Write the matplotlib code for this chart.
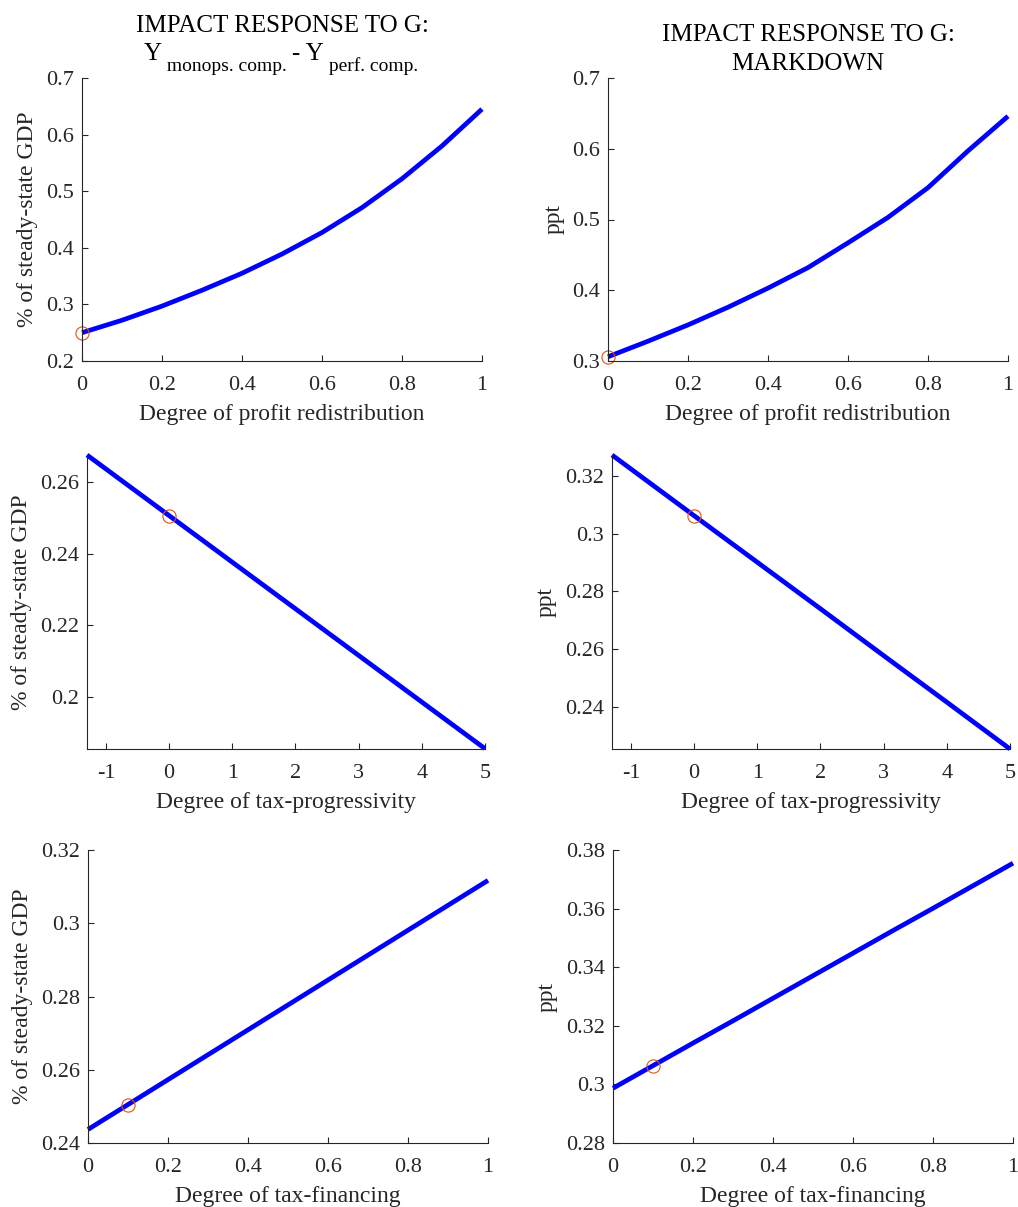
import matplotlib
matplotlib.use("Agg")
import matplotlib.pyplot as plt
import numpy as np

plt.rcParams['font.family'] = ['Liberation Serif', 'DejaVu Serif']
plt.rcParams['axes.unicode_minus'] = False

# data
x_profit = [0, 0.1, 0.2, 0.3, 0.4, 0.5, 0.6, 0.7, 0.8, 0.9, 1.0]
y_profit = [0.250, 0.272, 0.297, 0.325, 0.355, 0.389, 0.427, 0.471, 0.522, 0.580, 0.645]
md_profit = [0.306, 0.328, 0.351, 0.376, 0.403, 0.432, 0.467, 0.503, 0.545, 0.597, 0.646]

x_prog = [-1.3, 0, 1, 2, 3, 4, 5]
y_prog = [0.2675, 0.2506, 0.2376, 0.2246, 0.2116, 0.1986, 0.1856]
md_prog = [0.3272, 0.3062, 0.2901, 0.2740, 0.2578, 0.2417, 0.2255]

x_fin = [0, 0.1, 0.2, 0.3, 0.4, 0.5, 0.6, 0.7, 0.8, 0.9, 1.0]
y_fin = [0.2437, 0.2505, 0.2573, 0.2641, 0.2709, 0.2777, 0.2845, 0.2913, 0.2981, 0.3049, 0.3117]
md_fin = [0.2987, 0.3064, 0.3141, 0.3217, 0.3294, 0.3371, 0.3448, 0.3525, 0.3601, 0.3678, 0.3755]

# baseline calibration markers
base_profit = (0, 0.250, 0.306)
base_prog = (0, 0.2506, 0.3062)
base_fin = (0.1, 0.2505, 0.3064)

title_top = 'IMPACT RESPONSE TO G:'
title_y_parts = [('Y', False), (' monops. comp. ', True), ('- Y', False), (' perf. comp.', True)]
title_md = 'MARKDOWN'
ylab_y = '% of steady-state GDP'
ylab_md = 'ppt'

W, H = 1018, 1207
fig = plt.figure(figsize=(W / 100, H / 100), dpi=100)

def box(l, r, t, b):
    return [l / W, 1 - b / H, (r - l) / W, (b - t) / H]

axc = '#262626'
TICK = 16
LAB = 17
TIT = 18
SUB = 14

def style(ax, xlim, ylim, xticks, yticks, xlabel, ylabel):
    ax.set_xlim(xlim)
    ax.set_ylim(ylim)
    ax.set_xticks(xticks)
    ax.set_yticks(yticks)
    ax.set_xticklabels([('%g' % v) for v in xticks])
    ax.set_yticklabels([('%g' % round(v, 3)) for v in yticks])
    for s in ['top', 'right']:
        ax.spines[s].set_visible(False)
    for s in ['left', 'bottom']:
        ax.spines[s].set_color(axc)
        ax.spines[s].set_linewidth(0.8)
    ax.tick_params(direction='in', length=4, width=0.8, colors=axc,
                   labelsize=TICK)
    ax.tick_params(axis='x', pad=10.5)
    ax.tick_params(axis='y', pad=6)
    ax.set_xlabel(xlabel, fontsize=LAB, color=axc, labelpad=7)
    ax.set_ylabel(ylabel, fontsize=LAB, color=axc, labelpad=5.5)

def draw(ax, x, y, bx, by):
    ax.plot(x, y, color='blue', lw=3.4, solid_capstyle='butt', clip_on=False)
    ax.plot([bx], [by], 'o', mfc='none', mec='#D95319', ms=9.5, mew=0.8,
            clip_on=False)

def ftext(xpix, ypix, s, size, ha='center'):
    return fig.text(xpix / W, 1 - ypix / H, s, fontsize=size, ha=ha,
                    va='baseline', color='black')

# row 1
ax1 = fig.add_axes(box(82, 482, 78, 361))
draw(ax1, x_profit, y_profit, base_profit[0], base_profit[1])
style(ax1, (0, 1), (0.2, 0.7), [0, 0.2, 0.4, 0.6, 0.8, 1],
      [0.2, 0.3, 0.4, 0.5, 0.6, 0.7], 'Degree of profit redistribution', ylab_y)

ax2 = fig.add_axes(box(608, 1008, 78, 361))
draw(ax2, x_profit, md_profit, base_profit[0], base_profit[2])
style(ax2, (0, 1), (0.3, 0.7), [0, 0.2, 0.4, 0.6, 0.8, 1],
      [0.3, 0.4, 0.5, 0.6, 0.7], 'Degree of profit redistribution', ylab_md)

# titles
ftext(282, 32, title_top, TIT)
ftext(808, 41, title_top, TIT)
ftext(808, 70, title_md, TIT)

# second line of the left title, with big subscripts
renderer = fig.canvas.get_renderer()
pieces = []
for s, sub in title_y_parts:
    t = ftext(0, 71 if sub else 60, s, SUB if sub else TIT, ha='left')
    pieces.append(t)
widths = [p.get_window_extent(renderer).width for p in pieces]
xpos = 281 - sum(widths) / 2
for p, w in zip(pieces, widths):
    p.set_x(xpos / W)
    xpos += w

# row 2
ax3 = fig.add_axes(box(87, 485, 455, 749))
draw(ax3, x_prog, y_prog, base_prog[0], base_prog[1])
style(ax3, (-1.3, 5), (0.1855, 0.2675), [-1, 0, 1, 2, 3, 4, 5],
      [0.2, 0.22, 0.24, 0.26], 'Degree of tax-progressivity', ylab_y)

ax4 = fig.add_axes(box(612, 1010, 455, 749))
draw(ax4, x_prog, md_prog, base_prog[0], base_prog[2])
style(ax4, (-1.3, 5), (0.2255, 0.3272), [-1, 0, 1, 2, 3, 4, 5],
      [0.24, 0.26, 0.28, 0.3, 0.32], 'Degree of tax-progressivity', ylab_md)

# row 3
ax5 = fig.add_axes(box(88, 488, 850, 1143))
draw(ax5, x_fin, y_fin, base_fin[0], base_fin[1])
style(ax5, (0, 1), (0.24, 0.32), [0, 0.2, 0.4, 0.6, 0.8, 1],
      [0.24, 0.26, 0.28, 0.3, 0.32], 'Degree of tax-financing', ylab_y)

ax6 = fig.add_axes(box(613, 1013, 850, 1143))
draw(ax6, x_fin, md_fin, base_fin[0], base_fin[2])
style(ax6, (0, 1), (0.28, 0.38), [0, 0.2, 0.4, 0.6, 0.8, 1],
      [0.28, 0.3, 0.32, 0.34, 0.36, 0.38], 'Degree of tax-financing', ylab_md)

fig.savefig('out.png', dpi=100)
